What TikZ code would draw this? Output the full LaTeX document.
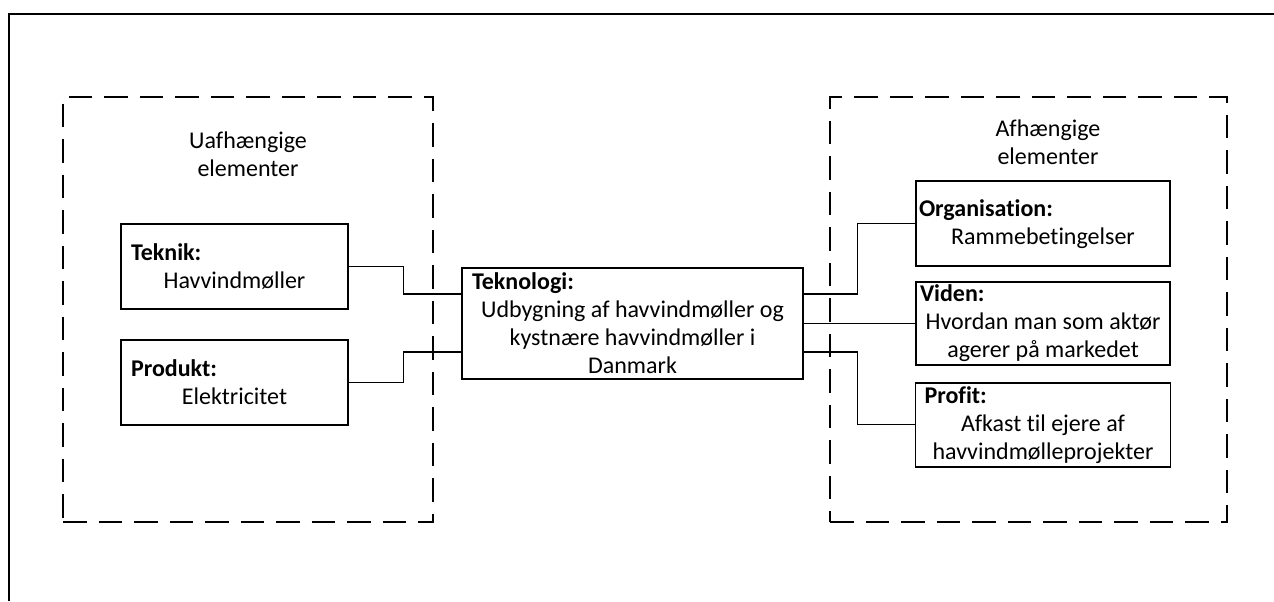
\documentclass[tikz,border=0pt]{standalone}
\usepackage{fontspec}
\setmainfont{Carlito}[Ligatures=NoCommon]
\usepackage{tikz}
\usetikzlibrary{positioning,calc}
\tikzset{%
  % boxes
  elem/.style={draw, line width=0.85pt, align=flush center, inner ysep=0pt,
    font=\fontsize{12}{14}\selectfont},
  group/.style={draw, line width=0.85pt, dash pattern=on 11.75pt off 6pt},
  title/.style={align=center, font=\fontsize{12}{14}\selectfont},
  % edge styles
  link/.style={line width=0.65pt},
  frame/.style={line width=1pt},
}

\begin{document}
\begin{tikzpicture}[x=0.5pt, y=-0.5pt]
  \useasboundingbox (0,0) rectangle (1274,601);
  \draw[frame] (8.5,601) -- (8.5,13.5) -- (1274,13.5);

  % element groups
  \node[group, minimum width=185pt, minimum height=212.5pt] (uaf) at (248,309.5) {};
  \node[group, minimum width=198.5pt, minimum height=212.5pt] (afh) at (1028.5,309.5) {};
  \node[title] (uaftitle) at (248,154) {Uafhængige\\elementer};
  \node[title] (afhtitle) at (1048,142) {Afhængige\\elementer};

  % elements
  \node[elem, text width=103.5pt, inner xsep=5pt, minimum height=42.5pt] (teknik) at (234.5,266.5)
    {\textbf{Teknik:}\hfill\null\\Havvindmøller};
  \node[elem, text width=103.5pt, inner xsep=5pt, minimum height=42.5pt, below=14.5pt of teknik] (produkt)
    {\textbf{Produkt:}\hfill\null\\Elektricitet};
  \node[elem, text width=160.5pt, inner xsep=5pt, minimum height=55.5pt] (tek) at (632.5,323.5)
    {\textbf{Teknologi:}\hfill\null\\Udbygning af havvindmøller og\\kystnære havvindmøller i\\Danmark};
  \node[elem, text width=123pt, inner xsep=2pt, minimum height=41.5pt] (viden) at (1043,323.5)
    {\textbf{Viden:}\hfill\null\\Hvordan man som aktør\\agerer på markedet};
  \node[elem, text width=124pt, inner xsep=1.5pt, minimum height=42.5pt, above=7pt of viden] (org)
    {\textbf{Organisation:}\hfill\null\\Rammebetingelser};
  \node[elem, text width=118.5pt, inner xsep=4.5pt, minimum height=42pt, below=8pt of viden] (profit)
    {\textbf{Profit:}\hfill\null\\Afkast til ejere af\\havvindmølleprojekter};

  \draw[link] (teknik.east) -| ($(tek.west)+(-58,-29.5)$) -- ($(tek.west)+(0,-29.5)$);
  \draw[link] (produkt.east) -| ($(tek.west)+(-58,28.5)$) -- ($(tek.west)+(0,28.5)$);
  \draw[link] ($(tek.east)+(0,-29.5)$) -| ($(org.west)+(-58,0)$) -- (org.west);
  \draw[link] (tek.east) -- (viden.west);
  \draw[link] ($(tek.east)+(0,28.5)$) -| ($(profit.west)+(-57,0)$) -- (profit.west);
\end{tikzpicture}
\end{document}
